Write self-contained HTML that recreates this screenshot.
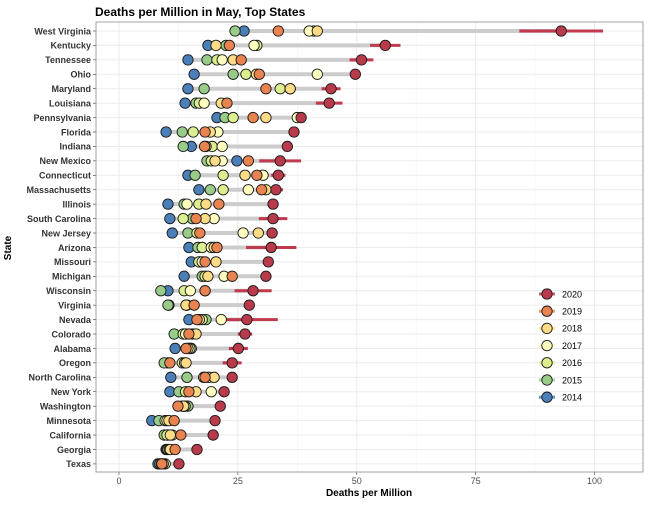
<!DOCTYPE html>
<html><head><meta charset="utf-8"><style>
body{margin:0;background:#fff;}
svg text{font-family:"Liberation Sans",Arial,sans-serif;}
</style></head><body>
<svg id="chart" width="648" height="504" xmlns="http://www.w3.org/2000/svg">
<text x="95" y="16" font-size="12" font-weight="bold" fill="#000">Deaths per Million in May, Top States</text>
<g id="grid"></g>
<g id="marks"></g>
<g id="axes"></g>
<g id="legend"></g>
</svg>
<script>
const states=["West Virginia","Kentucky","Tennessee","Ohio","Maryland","Louisiana","Pennsylvania","Florida","Indiana","New Mexico","Connecticut","Massachusetts","Illinois","South Carolina","New Jersey","Arizona","Missouri","Michigan","Wisconsin","Virginia","Nevada","Colorado","Alabama","Oregon","North Carolina","New York","Washington","Minnesota","California","Georgia","Texas"];
const y2014=[26.3,18.7,14.5,15.8,14.5,13.9,20.6,9.9,15.2,24.8,14.5,16.8,10.3,10.7,11.2,14.7,15.2,13.7,10.3,10.5,14.7,15.4,11.8,10.3,10.9,10.7,13.3,6.9,10.3,9.9,8.2];
const y2015=[24.4,22.5,18.5,24.0,17.9,16.2,22.3,13.3,13.5,18.5,16.0,19.2,13.7,15.4,14.5,16.6,17.0,17.5,8.8,10.3,18.3,11.6,15.2,9.5,14.3,12.6,14.5,8.4,9.5,10.1,8.6];
const y2016=[41.0,29.0,20.6,26.7,33.9,16.9,24.0,15.6,19.6,19.4,21.9,21.9,16.8,13.5,16.4,17.5,16.8,18.1,13.7,14.3,17.5,13.5,14.8,13.3,17.8,14.0,13.8,9.7,10.1,10.3,8.9];
const y2017=[40.0,28.4,21.7,41.7,36.0,17.9,37.5,20.8,21.7,21.7,30.3,27.2,14.3,20.0,26.1,19.4,17.5,22.1,15.0,14.1,21.5,14.0,14.9,13.8,18.9,19.4,13.9,10.1,11.2,10.6,9.7];
const y2018=[41.7,20.4,24.0,28.9,36.0,21.5,30.9,19.2,18.3,20.2,26.5,30.9,18.3,18.1,29.3,20.0,20.4,18.7,18.1,14.1,16.9,16.2,14.5,14.1,20.0,16.2,13.6,10.5,10.8,10.8,9.3];
const y2019=[33.5,23.2,25.7,29.5,30.9,22.7,28.2,18.1,18.0,27.2,29.0,30.0,21.0,16.2,17.0,20.6,18.1,23.8,18.1,15.8,16.4,14.7,14.1,10.7,18.1,14.7,12.4,11.6,13.0,11.8,9.0];
const y2020=[93,56,51,49.7,44.6,44.2,38.3,36.8,35.4,33.9,33.5,33,32.4,32.4,32.2,32,31.4,30.9,28.2,27.4,26.9,26.5,25.1,23.8,23.8,22.1,21.3,20.2,19.8,16.4,12.6];
const err2020=[8.8,3.2,2.5,0.8,2.0,2.8,1.0,1.0,1.0,4.4,1.5,1.5,0.5,3.0,1.0,5.3,0.5,0.5,3.9,1.0,6.5,1.5,2.0,2.0,1.0,0.5,0.5,0.5,0.5,0.5,0.5];
const years=["2014","2015","2016","2017","2018","2019","2020"];
const colors=["#4a7fb8","#99cc88","#dcef8f","#ffffbf","#fddc85","#e9834f","#b83a4b"];
const xTicks=[0,25,50,75,100];
const NS="http://www.w3.org/2000/svg";
const px0=96,px1=643,py0=22,py1=472;
const xs=v=>119+v*4.755;
const ys=i=>31+i*14.43;
function mk(tag,attrs,parent){const e=document.createElementNS(NS,tag);for(const k in attrs)e.setAttribute(k,attrs[k]);parent.appendChild(e);return e;}
const grid=document.getElementById('grid'),marks=document.getElementById('marks'),axes=document.getElementById('axes'),leg=document.getElementById('legend');
let bg=mk('rect',{x:px0,y:py0,width:px1-px0,height:py1-py0,fill:'#fff',stroke:'none'},grid);


for(let i=0;i<xTicks.length;i++){
 const v=xTicks[i];
 mk('line',{x1:xs(v),x2:xs(v),y1:py0,y2:py1,stroke:'#ebebeb','stroke-width':1},grid);
 if(i<xTicks.length-1){const m=v+12.5;mk('line',{x1:xs(m),x2:xs(m),y1:py0,y2:py1,stroke:'#f4f4f4','stroke-width':0.6},grid);}
 mk('line',{x1:xs(v),x2:xs(v),y1:py1,y2:py1+3,stroke:'#333','stroke-width':0.6},axes);
 const t=mk('text',{x:xs(v),y:py1+12,'font-size':9,'text-anchor':'middle',fill:'#4d4d4d'},axes);t.textContent=v;
 
 
}
const series=[y2014,y2015,y2016,y2017,y2018,y2019];
states.forEach((s,i)=>{
 const y=ys(i);
 mk('line',{x1:px0,x2:px1,y1:y,y2:y,stroke:'#ebebeb','stroke-width':1},grid);
 mk('line',{x1:px0-3,x2:px0,y1:y,y2:y,stroke:'#333','stroke-width':0.6},axes);
 const t=mk('text',{x:px0-5,y:y+3.3,'font-size':9,'font-weight':'bold','text-anchor':'end',fill:'#333'},axes);t.textContent=s;
 
 
 const all=series.map(a=>a[i]).concat([y2020[i]]);
 const mn=Math.min(...all),mx=Math.max(...all);
 const seg=mk('line',{x1:xs(mn),x2:xs(mx),y1:y,y2:y,stroke:'#cccccc','stroke-width':4},marks);
 
 
 const eb=mk('line',{x1:xs(y2020[i]-err2020[i]),x2:xs(y2020[i]+err2020[i]),y1:y,y2:y,stroke:'#c0394c','stroke-width':3},marks);
 
 
 series.forEach((arr,k)=>{
  const c=mk('circle',{cx:xs(arr[i]),cy:y,r:5.2,fill:colors[k],stroke:'#1a1a1a','stroke-width':0.9},marks);
  
  
 });
 const c=mk('circle',{cx:xs(y2020[i]),cy:y,r:5.2,fill:colors[6],stroke:'#1a1a1a','stroke-width':0.9},marks);
 
 
});
mk('rect',{x:px0,y:py0,width:px1-px0,height:py1-py0,fill:'none',stroke:'#8a8a8a','stroke-width':0.8},axes);
const xt=mk('text',{x:369,y:496,'font-size':10,'font-weight':'bold','text-anchor':'middle',fill:'#000'},axes);xt.textContent='Deaths per Million';


const yt=mk('text',{x:0,y:0,'font-size':10,'font-weight':'bold','text-anchor':'middle',fill:'#000',transform:'translate(11,248) rotate(-90)'},axes);yt.textContent='State';


for(let k=6;k>=0;k--){
 const y=294+(6-k)*17.2;
 const g=mk('g',{},leg);
 
 
 mk('line',{x1:539,x2:555,y1:y,y2:y,stroke:colors[k],'stroke-width':3,opacity:0.8},g);
 mk('circle',{cx:547,cy:y,r:5.2,fill:colors[k],stroke:'#1a1a1a','stroke-width':0.9},g);
 const t=mk('text',{x:562,y:y+3.3,'font-size':9,fill:'#000'},g);t.textContent=years[k];
}
</script>
</body></html>
